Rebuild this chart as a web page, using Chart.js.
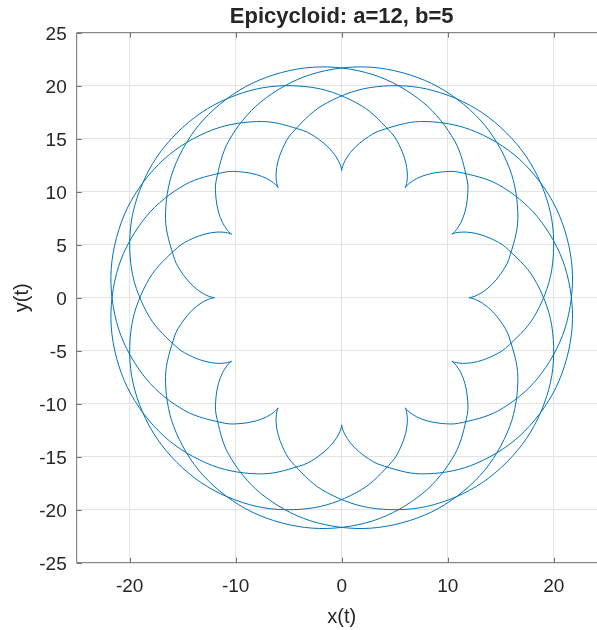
<!DOCTYPE html>
<html lang="en">
<head>
    <meta charset="UTF-8">
    <title>Epicycloid</title>
    <style>
        html, body { margin: 0; padding: 0; overflow: hidden; background: #fff; }
        canvas { display: block; }
    </style>
</head>
<body>
    <canvas id="epiChart" width="620" height="630"></canvas>

    <script src="https://cdn.jsdelivr.net/npm/chart.js"></script>

    <script>
        // tick positions shown on the axes
        const tickX = [-20, -10, 0, 10, 20];
        const tickY = [-25, -20, -15, -10, -5, 0, 5, 10, 15, 20, 25];

        const arcX = [
            [12.00, 12.15, 12.60, 13.27, 14.10, 14.97, 15.76, 16.62, 15.85, 13.07, 8.46, 2.78, -2.94, -7.65, -10.67, -11.85, -11.86, -11.62, -11.24, -10.83, -10.52, -10.39],
            [0.00, -0.02, -0.16, -0.51, -1.18, -2.20, -3.61, -7.45, -12.15, -16.76, -20.22, -21.74, -21.05, -18.45, -14.77, -11.01, -9.39, -8.07, -7.08, -6.43, -6.09, -6.00],
            [-12.00, -12.15, -12.60, -13.27, -14.10, -14.97, -15.76, -16.62, -15.85, -13.07, -8.46, -2.78, 2.94, 7.65, 10.67, 11.85, 11.86, 11.62, 11.24, 10.83, 10.52, 10.39],
            [0.00, 0.02, 0.16, 0.51, 1.18, 2.20, 3.61, 7.45, 12.15, 16.76, 20.22, 21.74, 21.05, 18.45, 14.77, 11.01, 9.39, 8.07, 7.08, 6.43, 6.09, 6.00],
            [-12.00, -12.15, -12.60, -13.27, -14.10, -14.97, -15.76, -16.62, -15.85, -13.07, -8.46, -2.78, 2.94, 7.65, 10.67, 11.85, 11.86, 11.62, 11.24, 10.83, 10.52, 10.39],
            [0.00, -0.02, -0.16, -0.51, -1.18, -2.20, -3.61, -7.45, -12.15, -16.76, -20.22, -21.74, -21.05, -18.45, -14.77, -11.01, -9.39, -8.07, -7.08, -6.43, -6.09, -6.00],
            [12.00, 12.15, 12.60, 13.27, 14.10, 14.97, 15.76, 16.62, 15.85, 13.07, 8.46, 2.78, -2.94, -7.65, -10.67, -11.85, -11.86, -11.62, -11.24, -10.83, -10.52, -10.39],
            [0.00, 0.02, 0.16, 0.51, 1.18, 2.20, 3.61, 7.45, 12.15, 16.76, 20.22, 21.74, 21.05, 18.45, 14.77, 11.01, 9.39, 8.07, 7.08, 6.43, 6.09, 6.00],
            [10.39, 10.54, 10.99, 11.75, 12.80, 14.07, 15.46, 18.12, 19.81, 19.70, 17.44, 13.27, 7.98, 2.60, -1.85, -4.76, -5.58, -6.03, -6.19, -6.16, -6.06, -6.00],
            [6.00, 6.06, 6.16, 6.19, 6.03, 5.58, 4.76, 1.85, -2.60, -7.98, -13.27, -17.44, -19.70, -19.81, -18.12, -15.46, -14.07, -12.80, -11.75, -10.99, -10.54, -10.39],
            [-10.39, -10.54, -10.99, -11.75, -12.80, -14.07, -15.46, -18.12, -19.81, -19.70, -17.44, -13.27, -7.98, -2.60, 1.85, 4.76, 5.58, 6.03, 6.19, 6.16, 6.06, 6.00],
            [-6.00, -6.06, -6.16, -6.19, -6.03, -5.58, -4.76, -1.85, 2.60, 7.98, 13.27, 17.44, 19.70, 19.81, 18.12, 15.46, 14.07, 12.80, 11.75, 10.99, 10.54, 10.39]
        ];
        const arcY = [
            [0.00, 0.02, 0.16, 0.51, 1.18, 2.20, 3.61, 7.45, 12.15, 16.76, 20.22, 21.74, 21.05, 18.45, 14.77, 11.01, 9.39, 8.07, 7.08, 6.43, 6.09, 6.00],
            [12.00, 12.15, 12.60, 13.27, 14.10, 14.97, 15.76, 16.62, 15.85, 13.07, 8.46, 2.78, -2.94, -7.65, -10.67, -11.85, -11.86, -11.62, -11.24, -10.83, -10.52, -10.39],
            [0.00, -0.02, -0.16, -0.51, -1.18, -2.20, -3.61, -7.45, -12.15, -16.76, -20.22, -21.74, -21.05, -18.45, -14.77, -11.01, -9.39, -8.07, -7.08, -6.43, -6.09, -6.00],
            [-12.00, -12.15, -12.60, -13.27, -14.10, -14.97, -15.76, -16.62, -15.85, -13.07, -8.46, -2.78, 2.94, 7.65, 10.67, 11.85, 11.86, 11.62, 11.24, 10.83, 10.52, 10.39],
            [0.00, 0.02, 0.16, 0.51, 1.18, 2.20, 3.61, 7.45, 12.15, 16.76, 20.22, 21.74, 21.05, 18.45, 14.77, 11.01, 9.39, 8.07, 7.08, 6.43, 6.09, 6.00],
            [-12.00, -12.15, -12.60, -13.27, -14.10, -14.97, -15.76, -16.62, -15.85, -13.07, -8.46, -2.78, 2.94, 7.65, 10.67, 11.85, 11.86, 11.62, 11.24, 10.83, 10.52, 10.39],
            [0.00, -0.02, -0.16, -0.51, -1.18, -2.20, -3.61, -7.45, -12.15, -16.76, -20.22, -21.74, -21.05, -18.45, -14.77, -11.01, -9.39, -8.07, -7.08, -6.43, -6.09, -6.00],
            [12.00, 12.15, 12.60, 13.27, 14.10, 14.97, 15.76, 16.62, 15.85, 13.07, 8.46, 2.78, -2.94, -7.65, -10.67, -11.85, -11.86, -11.62, -11.24, -10.83, -10.52, -10.39],
            [-6.00, -6.06, -6.16, -6.19, -6.03, -5.58, -4.76, -1.85, 2.60, 7.98, 13.27, 17.44, 19.70, 19.81, 18.12, 15.46, 14.07, 12.80, 11.75, 10.99, 10.54, 10.39],
            [10.39, 10.54, 10.99, 11.75, 12.80, 14.07, 15.46, 18.12, 19.81, 19.70, 17.44, 13.27, 7.98, 2.60, -1.85, -4.76, -5.58, -6.03, -6.19, -6.16, -6.06, -6.00],
            [6.00, 6.06, 6.16, 6.19, 6.03, 5.58, 4.76, 1.85, -2.60, -7.98, -13.27, -17.44, -19.70, -19.81, -18.12, -15.46, -14.07, -12.80, -11.75, -10.99, -10.54, -10.39],
            [-10.39, -10.54, -10.99, -11.75, -12.80, -14.07, -15.46, -18.12, -19.81, -19.70, -17.44, -13.27, -7.98, -2.60, 1.85, 4.76, 5.58, 6.03, 6.19, 6.16, 6.06, 6.00]
        ];

        const lineColor = '#0072BD';
        const axisText = '#262626';
        const fontFamily = '"Liberation Sans", Arial, Helvetica, sans-serif';

        // one dataset per arch so the cusps stay sharp
        const datasets = arcX.map((xs, i) => ({
            data: xs.map((x, j) => ({ x: x, y: arcY[i][j] })),
            showLine: true,
            borderColor: lineColor,
            borderWidth: 1,
            pointRadius: 0,
            tension: 0.33,
            fill: false
        }));

        // box around the axes plus inward tick marks, matlab style
        const boxPlugin = {
            id: 'box',
            afterDraw(chart) {
                const { ctx, chartArea: a, scales } = chart;
                const len = 5;
                ctx.save();
                ctx.strokeStyle = '#707070';
                ctx.lineWidth = 1;
                ctx.beginPath();
                ctx.rect(a.left, a.top, a.right - a.left, a.bottom - a.top);
                tickX.forEach(v => {
                    const px = Math.round(scales.x.getPixelForValue(v)) + 0.5;
                    ctx.moveTo(px, a.bottom);
                    ctx.lineTo(px, a.bottom - len);
                    ctx.moveTo(px, a.top);
                    ctx.lineTo(px, a.top + len);
                });
                tickY.forEach(v => {
                    const py = Math.round(scales.y.getPixelForValue(v)) + 0.5;
                    ctx.moveTo(a.left, py);
                    ctx.lineTo(a.left + len, py);
                    ctx.moveTo(a.right, py);
                    ctx.lineTo(a.right - len, py);
                });
                ctx.stroke();
                ctx.restore();
            }
        };

        const ctx = document.getElementById('epiChart').getContext('2d');
        const epiChart = new Chart(ctx, {
            type: 'scatter',
            data: { datasets: datasets },
            options: {
                responsive: false,
                animation: false,
                devicePixelRatio: 1,
                layout: { padding: { left: 0, right: 13.3, top: 0, bottom: 0 } },
                plugins: {
                    legend: { display: false },
                    tooltip: { enabled: false },
                    title: {
                        display: true,
                        text: 'Epicycloid: a=12, b=5',
                        fullSize: false,
                        color: axisText,
                        font: { family: fontFamily, size: 22, weight: 'bold', lineHeight: 1.2 },
                        padding: { top: 3.8, bottom: 2.5 }
                    }
                },
                scales: {
                    x: {
                        type: 'linear',
                        min: -25,
                        max: 25,
                        afterFit: s => { s.height = 67.3; },
                        afterBuildTicks: s => { s.ticks = tickX.map(v => ({ value: v })); },
                        ticks: {
                            autoSkip: false,
                            maxRotation: 0,
                            padding: 13,
                            color: axisText,
                            font: { family: fontFamily, size: 19 }
                        },
                        grid: { color: '#e3e3e3', lineWidth: 1, drawTicks: false },
                        border: { display: false },
                        title: {
                            display: true,
                            text: 'x(t)',
                            color: axisText,
                            font: { family: fontFamily, size: 20 },
                            padding: { top: 0, bottom: 1 }
                        }
                    },
                    y: {
                        type: 'linear',
                        min: -25,
                        max: 25,
                        afterFit: s => { s.width = 76.7; },
                        afterBuildTicks: s => { s.ticks = tickY.map(v => ({ value: v })); },
                        ticks: {
                            autoSkip: false,
                            padding: 10,
                            labelOffset: 2,
                            color: axisText,
                            font: { family: fontFamily, size: 19 }
                        },
                        grid: { color: '#e3e3e3', lineWidth: 1, drawTicks: false },
                        border: { display: false },
                        title: {
                            display: true,
                            text: 'y(t)',
                            color: axisText,
                            font: { family: fontFamily, size: 20 },
                            padding: { top: 10.3, bottom: 0 }
                        }
                    }
                }
            },
            plugins: [boxPlugin]
        });
    </script>
</body>
</html>
